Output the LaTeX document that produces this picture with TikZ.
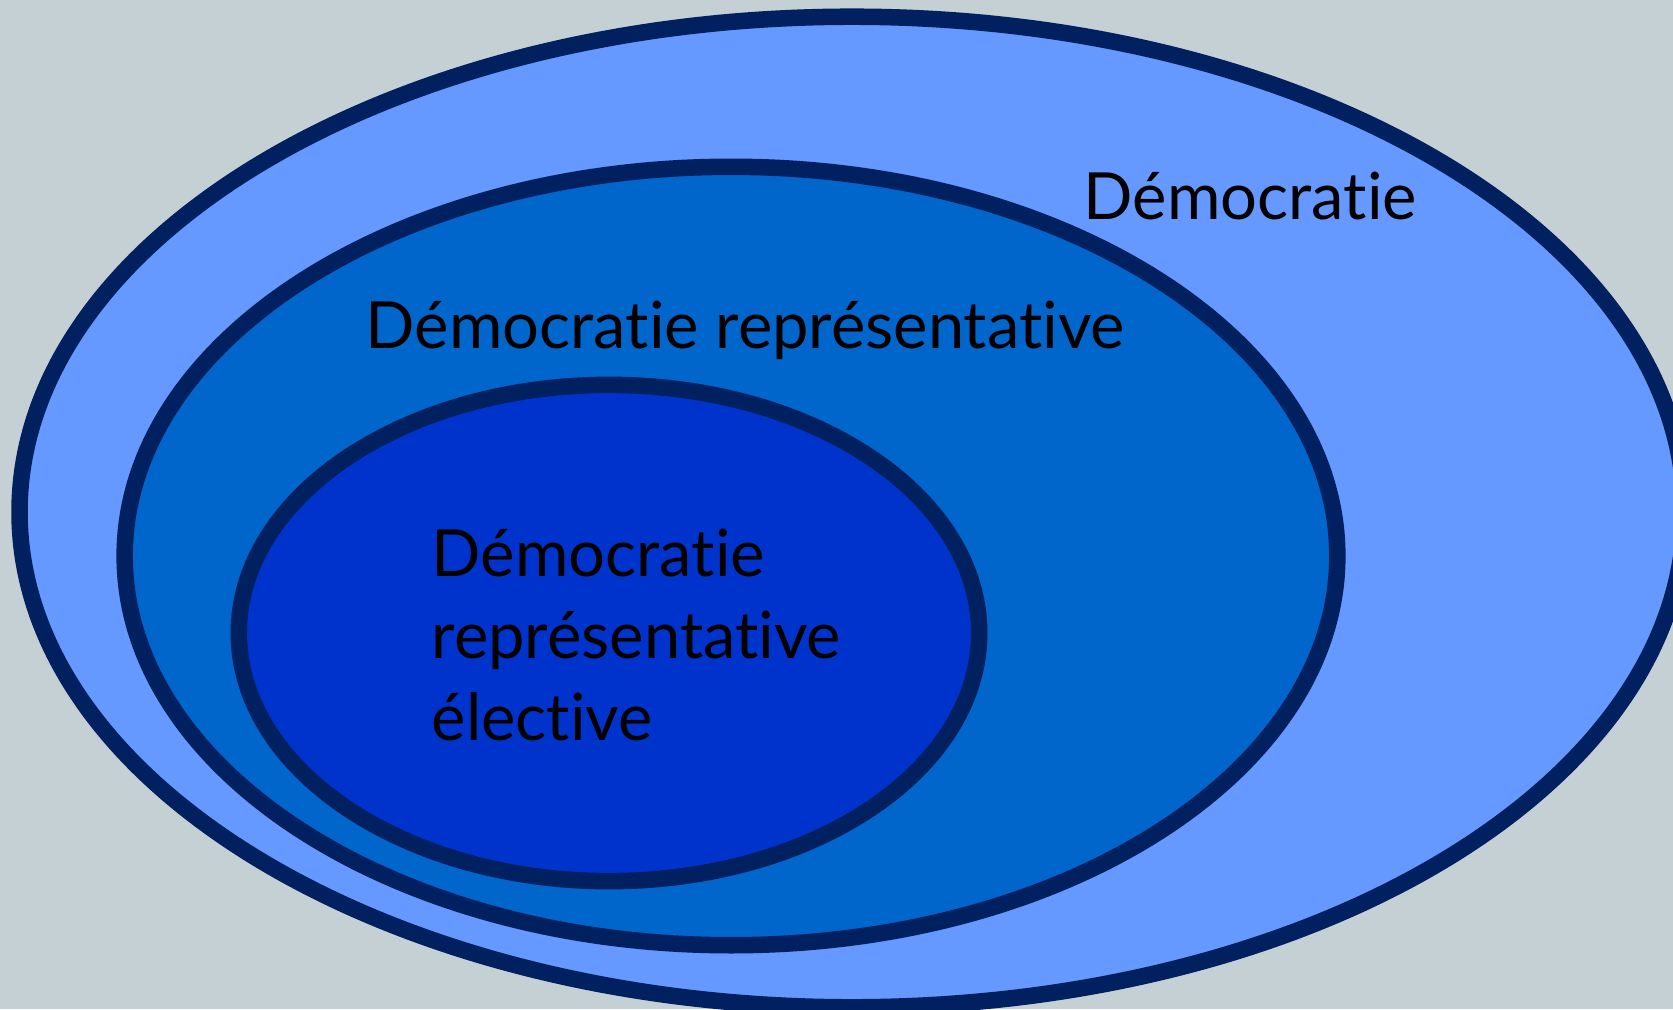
\documentclass[tikz,border=0pt]{standalone}
\usepackage{fontspec}
\setmainfont[RawFeature={-liga;-dlig;-clig}]{Lato}
\definecolor{bgc}{HTML}{C4D0D4}
\definecolor{ring}{HTML}{002060}
\definecolor{f1}{HTML}{6699FF}
\definecolor{f2}{HTML}{0066CC}
\definecolor{f3}{HTML}{0033CC}
\tikzset{
  ringstyle/.style={draw=ring, line width=4.7pt},
  lbl/.style={anchor=base west, inner sep=0pt, font=\fontsize{18.5}{22}\selectfont, text=black}
}
\begin{document}
\begin{tikzpicture}[x=0.01cm,y=-0.01cm]
\useasboundingbox (0,0) rectangle (1673,1009);
\clip (0,0) rectangle (1673,1009);
\fill[bgc] (0,0) rectangle (1673,1009);
\path[ringstyle, fill=f1] (852,512) ellipse [x radius=8.32cm, y radius=4.95cm];
\path[ringstyle, fill=f2] (731,556) ellipse [x radius=6.06cm, y radius=3.89cm];
\path[ringstyle, fill=f3] (609,633) ellipse [x radius=3.70cm, y radius=2.48cm];
\node[lbl] (t1) at (1083,219) {Démocratie};
\node[lbl] (t2) at (365,348) {Démocratie représentative};
\node[lbl] (t3) at (431,576) {Démocratie};
\node[lbl] (t4) at (431,658) {représentative};
\node[lbl] (t5) at (431,740) {élective};
\end{tikzpicture}
\end{document}
